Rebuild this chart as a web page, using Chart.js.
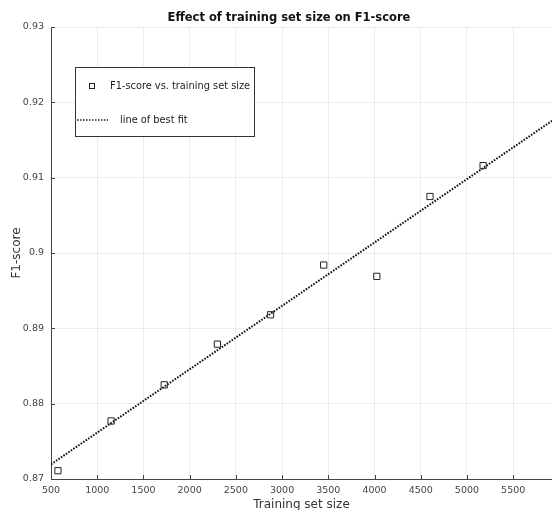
<!DOCTYPE html>
<html>
<head>
<meta charset="utf-8">
<script src="https://cdn.jsdelivr.net/npm/chart.js@4/dist/chart.umd.min.js"></script>
<style>
  html, body { margin: 0; padding: 0; background: #fff; }
  #wrap { width: 552px; height: 510px; }
</style>
</head>
<body>
<div id="wrap"><canvas id="f1Chart" width="552" height="510"></canvas></div>
<script>
// values
var trainSizes = [575, 1150, 1725, 2300, 2875, 3450, 4025, 4600, 5175];
var f1Scores = [0.8711, 0.8777, 0.8825, 0.8879, 0.8918, 0.8984, 0.8969, 0.9075, 0.9116];
var fitX = [500, 5920];
var fitY = [0.87195, 0.91755];
var xTicks = [500, 1000, 1500, 2000, 2500, 3000, 3500, 4000, 4500, 5000, 5500];
var yTicks = [0.87, 0.88, 0.89, 0.9, 0.91, 0.92, 0.93];

var FONT = "'DejaVu Sans', sans-serif";

var scatterPts = trainSizes.map(function(x, i){ return {x: x, y: f1Scores[i]}; });
var fitPts = fitX.map(function(x, i){ return {x: x, y: fitY[i]}; });

// title, legend box and inward tick marks
var decor = {
  id: 'decor',
  afterDraw: function(chart) {
    var ctx = chart.ctx;
    var xs = chart.scales.x, ys = chart.scales.y, area = chart.chartArea;
    ctx.save();
    // inward ticks
    ctx.strokeStyle = '#444';
    ctx.lineWidth = 1;
    ctx.beginPath();
    xTicks.forEach(function(v){
      var px = Math.round(xs.getPixelForValue(v)) + 0.5;
      ctx.moveTo(px, area.bottom); ctx.lineTo(px, area.bottom - 4);
    });
    yTicks.forEach(function(v){
      var py = Math.round(ys.getPixelForValue(v)) + 0.5;
      ctx.moveTo(area.left, py); ctx.lineTo(area.left + 4, py);
    });
    ctx.stroke();

    // title
    ctx.fillStyle = '#111';
    ctx.font = 'bold 11.5px ' + FONT;
    ctx.textAlign = 'center';
    ctx.textBaseline = 'middle';
    ctx.fillText('Effect of training set size on F1-score', 289, 18);

    // legend
    ctx.fillStyle = '#fff';
    ctx.fillRect(75.5, 67.5, 179, 69);
    ctx.strokeStyle = '#333';
    ctx.strokeRect(75.5, 67.5, 179, 69);
    ctx.strokeStyle = '#222';
    ctx.strokeRect(89.5, 83.5, 5, 5);
    ctx.beginPath();
    ctx.setLineDash([1.5, 1.5]);
    ctx.lineWidth = 1.6;
    ctx.moveTo(77, 120); ctx.lineTo(108, 120);
    ctx.stroke();
    ctx.setLineDash([]);
    ctx.fillStyle = '#222';
    ctx.font = '9.8px ' + FONT;
    ctx.textAlign = 'left';
    ctx.fillText('F1-score vs. training set size', 110, 86.5);
    ctx.fillText('line of best fit', 120, 120.5);
    ctx.restore();
  }
};

var chart = new Chart(document.getElementById('f1Chart'), {
  type: 'scatter',
  data: {
    datasets: [{
      label: 'F1-score vs. training set size',
      data: scatterPts,
      pointStyle: 'rect',
      pointRadius: 4.4,
      pointHoverRadius: 4.4,
      borderColor: '#222',
      backgroundColor: 'rgba(0,0,0,0)',
      borderWidth: 1
    }, {
      label: 'line of best fit',
      type: 'line',
      data: fitPts,
      showLine: true,
      borderColor: '#111',
      borderWidth: 2,
      borderDash: [1.6, 1.4],
      pointRadius: 0,
      fill: false
    }]
  },
  options: {
    responsive: false,
    animation: false,
    layout: { autoPadding: false, padding: { top: 27, right: 0, left: 0, bottom: 0 } },
    plugins: {
      legend: { display: false },
      tooltip: { enabled: false },
      title: { display: false }
    },
    scales: {
      x: {
        type: 'linear',
        min: 500,
        max: 5920,
        afterBuildTicks: function(s){ s.ticks = xTicks.map(function(v){ return {value: v}; }); },
        afterFit: function(s){ s.height = 31; },
        grid: { color: 'rgba(0,0,0,0.07)', drawTicks: false },
        border: { color: '#444', width: 1 },
        ticks: {
          padding: 6,
          maxRotation: 0,
          autoSkip: false,
          color: '#444',
          font: { family: FONT, size: 9.5 },
          callback: function(v){ return String(v); }
        },
        title: {
          display: true,
          text: 'Training set size',
          color: '#333',
          padding: { top: 0, bottom: -2 },
          font: { family: FONT, size: 12 }
        }
      },
      y: {
        type: 'linear',
        min: 0.87,
        max: 0.93,
        afterBuildTicks: function(s){ s.ticks = yTicks.map(function(v){ return {value: v}; }); },
        afterFit: function(s){ s.width = 51; },
        grid: { color: 'rgba(0,0,0,0.07)', drawTicks: false },
        border: { color: '#444', width: 1 },
        ticks: {
          padding: 7,
          autoSkip: false,
          color: '#444',
          font: { family: FONT, size: 9.5 },
          callback: function(v){ return String(Number(v.toFixed(2))); }
        },
        title: {
          display: true,
          text: 'F1-score',
          color: '#333',
          padding: { top: 10, bottom: 0 },
          font: { family: FONT, size: 12 }
        }
      }
    }
  },
  plugins: [decor]
});
</script>
</body>
</html>
